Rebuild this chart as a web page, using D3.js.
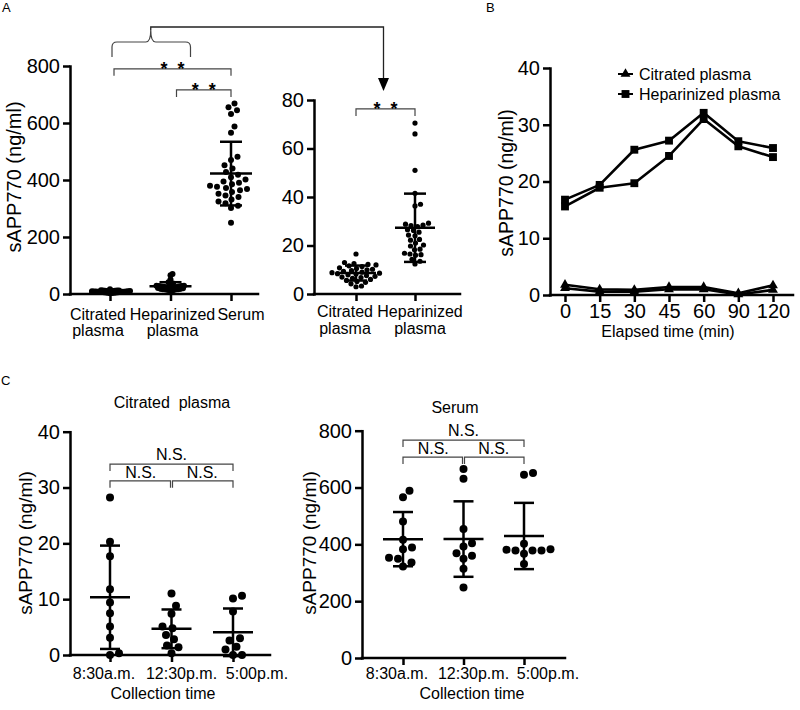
<!DOCTYPE html>
<html>
<head>
<meta charset="utf-8">
<script src="https://cdn.jsdelivr.net/npm/d3@7"></script>
<style>
body{margin:0;background:#fff}
svg text{font-family:"Liberation Sans",Arial,sans-serif;fill:#000}
</style>
</head>
<body>
<svg id="fig" width="800" height="710"></svg>
<script>
// ---- data ----
// panel A
var groupsA = ["Citrated plasma", "Heparinized plasma", "Serum"];
var labelsA = [["Citrated", "plasma"], ["Heparinized", "plasma"], ["Serum"]];
var citrated = [16.5, 13.0, 12.5, 12.2, 12.0, 11.6, 11.3, 10.8, 10.5, 10.2, 10.0, 9.6, 9.3, 9.0, 8.8, 8.6,
  8.4, 8.2, 7.9, 7.6, 7.3, 7.0, 6.8, 6.5, 6.0, 5.6, 5.2, 4.8, 4.2, 3.3, 3.0];
var heparinized = [70.5, 66, 51, 41.5, 37, 36.3, 29.2, 28.8, 28.4, 28.2, 27.8, 26.5, 26.2, 25.5, 24.3, 24,
  22.5, 22.2, 21, 20.2, 19.8, 18.5, 18.2, 16.8, 16.5, 16.2, 16, 14.3, 13.5, 12.4];
var serum = [668, 655, 645, 632, 588, 566, 482, 470, 452, 440, 428, 418, 410, 402, 395, 390, 385, 380,
  376, 372, 368, 364, 358, 352, 346, 340, 332, 325, 318, 310, 302, 250];
var ticksA = [0, 200, 400, 600, 800];
var ticksInset = [0, 20, 40, 60, 80];

// panel B
var timesB = ["0", "15", "30", "45", "60", "90", "120"];
var citB1 = [1.8, 1.0, 0.9, 1.4, 1.4, 0.3, 1.7];
var citB2 = [1.2, 0.6, 0.6, 1.0, 1.0, 0.1, 0.9];
var hepB1 = [16.8, 19.4, 25.6, 27.2, 32.1, 27.1, 25.9];
var hepB2 = [15.6, 18.9, 19.7, 24.5, 31.0, 26.2, 24.3];
var ticksB = [0, 10, 20, 30, 40];

// panel C
var timesC = ["8:30a.m.", "12:30p.m.", "5:00p.m."];
var citC = [
  [28.2, 20.3, 17.7, 11.8, 9.4, 7.5, 5.1, 3.1, 0, 0.3],
  [11.0, 8.8, 7.4, 5.1, 4.8, 3.6, 2.8, 1.7, 1.4, 0.3],
  [10.6, 10.1, 7.8, 3.0, 2.6, 1.5, 1.0, 0, 0]
];
var serC = [
  [589, 566, 480, 416, 389, 383, 353, 349, 336, 322],
  [665, 631, 454, 404, 392, 369, 360, 349, 314, 248],
  [651, 645, 402, 383, 381, 378, 378, 378, 367, 331]
];
var ticksCcit = [0, 10, 20, 30, 40];
var ticksCser = [0, 200, 400, 600, 800];

// ---- helpers ----
var svg = d3.select("#fig");

function leftAxis(x0, y, ticks, fs) {
  var g = svg.append("g").attr("transform", "translate(" + x0 + ",0)")
    .call(d3.axisLeft(y).tickValues(ticks).tickSize(7).tickSizeOuter(0).tickPadding(3));
  g.select(".domain").attr("stroke", "#000").attr("stroke-width", 2.5).attr("stroke-linecap", "square");
  g.selectAll(".tick line").attr("stroke", "#000").attr("stroke-width", 2.5);
  g.selectAll(".tick text").attr("font-size", fs);
  return g;
}

function bottomAxis(x, x0, x1, y0) {
  var g = svg.append("g").attr("transform", "translate(0," + y0 + ")")
    .call(d3.axisBottom(x).tickSize(7).tickSizeOuter(0).tickFormat(""));
  g.select(".domain").remove();
  g.selectAll(".tick line").attr("stroke", "#000").attr("stroke-width", 2.5);
  svg.append("line").attr("x1", x0).attr("x2", x1).attr("y1", y0).attr("y2", y0)
    .attr("stroke", "#000").attr("stroke-width", 2.5).attr("stroke-linecap", "square");
  return g;
}

function yTitle(x, y, fs, txt) {
  svg.append("text").attr("transform", "translate(" + x + "," + y + ") rotate(-90)")
    .attr("text-anchor", "middle").attr("font-size", fs).text(txt);
}

// simple beeswarm: push each dot sideways until it clears the ones already placed
function swarm(vals, y, cx, d) {
  var pts = vals.map(function(v) { return {v: v, y: y(v)}; })
    .sort(function(a, b) { return a.v - b.v; });
  var placed = [];
  pts.forEach(function(p) {
    for (var k = 0; k < 600; k++) {
      var xx = cx + (k % 2 ? 1 : -1) * Math.ceil(k / 2) * 0.5;
      var ok = placed.every(function(q) { return (q.x - xx) * (q.x - xx) + (q.y - p.y) * (q.y - p.y) >= d * d; });
      if (ok) { p.x = xx; break; }
    }
    placed.push(p);
  });
  return placed;
}

function dotGroup(vals, cx, y, r, d, halfMean, halfCap) {
  var pts = swarm(vals, y, cx, d);
  svg.append("g").selectAll("circle").data(pts).join("circle")
    .attr("cx", function(p) { return p.x; })
    .attr("cy", function(p) { return p.y; })
    .attr("r", r).attr("fill", "#000");
  var m = d3.mean(vals), s = d3.deviation(vals);
  var g = svg.append("g").attr("stroke", "#000").attr("stroke-width", 2.5);
  g.append("line").attr("x1", cx).attr("x2", cx).attr("y1", y(m - s)).attr("y2", y(m + s));
  g.append("line").attr("x1", cx - halfMean).attr("x2", cx + halfMean).attr("y1", y(m)).attr("y2", y(m));
  [m + s, m - s].forEach(function(v) {
    g.append("line").attr("x1", cx - halfCap).attr("x2", cx + halfCap).attr("y1", y(v)).attr("y2", y(v));
  });
}

function bracket(xa, xb, yl, drop) {
  svg.append("path")
    .attr("d", "M" + xa + "," + (yl + drop) + "V" + yl + "H" + xb + "V" + (yl + drop))
    .attr("fill", "none").attr("stroke", "#444").attr("stroke-width", 1.2);
}

function note(x, y, txt, fs, bold) {
  svg.append("text").attr("x", x).attr("y", y).attr("text-anchor", "middle")
    .attr("font-size", fs).attr("font-weight", bold ? "bold" : null)
    .style("white-space", "pre").text(txt);
}

// panel letters
[["A", 2, 12], ["B", 486, 12], ["C", 1, 385]].forEach(function(l) {
  svg.append("text").attr("x", l[1]).attr("y", l[2]).attr("font-size", 13).text(l[0]);
});

// ---- panel A, left ----
var yA = d3.scaleLinear().domain([0, 800]).range([294, 66]);
var xA = d3.scalePoint().domain(groupsA).range([110, 231]);
leftAxis(70, yA, ticksA, 20);
bottomAxis(xA, 70, 258, 294);
var shiftA = [-12, 2, 10];
groupsA.forEach(function(gname, i) {
  labelsA[i].forEach(function(t, j) {
    svg.append("text").attr("x", xA(gname) + shiftA[i]).attr("y", 320 + j * 16)
      .attr("text-anchor", "middle").attr("font-size", 16).text(t);
  });
});
yTitle(21, 177, 20, "sAPP770 (ng/ml)");
dotGroup(citrated, xA(groupsA[0]), yA, 3, 1.8, 21, 11);
dotGroup(heparinized, xA(groupsA[1]), yA, 3, 2.3, 21, 11);
dotGroup(serum, xA(groupsA[2]), yA, 3, 7, 21, 11);
bracket(xA(groupsA[0]) + 4, xA(groupsA[2]), yA(790), 7);
note((xA(groupsA[0]) + 4 + xA(groupsA[2])) / 2, yA(790) + 6, "*  *", 18, true);
bracket(xA(groupsA[1]) + 6, xA(groupsA[2]), yA(716), 7);
note((xA(groupsA[1]) + 6 + xA(groupsA[2])) / 2, yA(716) + 6, "*  *", 18, true);

// ---- panel A, inset ----
var yI = d3.scaleLinear().domain([0, 80]).range([294, 100]);
var xI = d3.scalePoint().domain(groupsA.slice(0, 2)).range([356, 415]);
leftAxis(314, yI, ticksInset, 20);
bottomAxis(xI, 314, 460, 294);
var shiftI = [-11, 5];
groupsA.slice(0, 2).forEach(function(gname, i) {
  labelsA[i].forEach(function(t, j) {
    svg.append("text").attr("x", xI(gname) + shiftI[i]).attr("y", 317 + j * 17)
      .attr("text-anchor", "middle").attr("font-size", 16).text(t);
  });
});
dotGroup(citrated, xI(groupsA[0]), yI, 2.6, 5.4, 20, 11);
dotGroup(heparinized, xI(groupsA[1]), yI, 2.6, 5.4, 20, 11);
bracket(xI(groupsA[0]), xI(groupsA[1]), yI(76.3), 7);
note((xI(groupsA[0]) + xI(groupsA[1])) / 2, yI(76.3) + 6, "*  *", 18, true);

// brace + arrow linking left panel to inset
var bx1 = xA(groupsA[0]) + 2, bx2 = xA(groupsA[1]) + 20, bc = (bx1 + bx2) / 2 - 0.5;
var arrowX = (xI(groupsA[0]) + xI(groupsA[1])) / 2 - 2;
svg.append("path")
  .attr("d", "M" + bx1 + ",57V47Q" + bx1 + ",42 " + (bx1 + 5) + ",42H" + (bc - 5) +
    "Q" + bc + ",42 " + bc + ",30Q" + bc + ",42 " + (bc + 5) + ",42H" + (bx2 - 5) +
    "Q" + bx2 + ",42 " + bx2 + ",47V57")
  .attr("fill", "none").attr("stroke", "#444").attr("stroke-width", 1.2);
svg.append("path")
  .attr("d", "M" + bc + ",30V27H" + arrowX + "V79")
  .attr("fill", "none").attr("stroke", "#222").attr("stroke-width", 1.3);
svg.append("path")
  .attr("d", "M" + (arrowX - 5.5) + ",78L" + (arrowX + 5.5) + ",78L" + arrowX + ",91Z")
  .attr("fill", "#000");

// ---- panel B ----
var yB = d3.scaleLinear().domain([0, 40]).range([295, 68]);
var xB = d3.scalePoint().domain(timesB).range([565, 773]);
leftAxis(550, yB, ticksB, 20);
var gxB = bottomAxis(xB, 550, 793, 295);
gxB.selectAll(".tick").append("text").attr("y", 23).attr("text-anchor", "middle")
  .attr("font-size", 20).text(function(d) { return d; });
yTitle(513, 183, 19.5, "sAPP770 (ng/ml)");
svg.append("text").attr("x", 668).attr("y", 337).attr("text-anchor", "middle")
  .attr("font-size", 16).text("Elapsed time (min)");

var lineB = d3.line().x(function(d, i) { return xB(timesB[i]); }).y(function(d) { return yB(d); });
var tri = d3.symbol().type(d3.symbolTriangle).size(42);
var sq = d3.symbol().type(d3.symbolSquare).size(62);
[[citB1, tri], [citB2, tri], [hepB1, sq], [hepB2, sq]].forEach(function(s) {
  svg.append("path").datum(s[0]).attr("d", lineB)
    .attr("fill", "none").attr("stroke", "#000").attr("stroke-width", 2.6).attr("stroke-linejoin", "round");
  svg.append("g").selectAll("path").data(s[0]).join("path")
    .attr("transform", function(d, i) { return "translate(" + xB(timesB[i]) + "," + yB(d) + ")"; })
    .attr("d", s[1]).attr("fill", "#000");
});
// legend
[["Citrated plasma", tri, 74], ["Heparinized plasma", sq, 94]].forEach(function(l) {
  svg.append("line").attr("x1", 618).attr("x2", 633).attr("y1", l[2]).attr("y2", l[2])
    .attr("stroke", "#000").attr("stroke-width", 2);
  svg.append("path").attr("transform", "translate(625.5," + l[2] + ")").attr("d", l[1]).attr("fill", "#000");
  svg.append("text").attr("x", 639).attr("y", l[2] + 6).attr("font-size", 16).text(l[0]);
});

// ---- panel C ----
function panelC(opt) {
  var y = d3.scaleLinear().domain(opt.domain).range([opt.y0, opt.y1]);
  var x = d3.scalePoint().domain(timesC).range(opt.xr);
  leftAxis(opt.ax, y, opt.ticks, 20);
  bottomAxis(x, opt.ax, opt.axEnd, opt.y0);
  var shift = [-6, 10, 24];
  timesC.forEach(function(t, i) {
    svg.append("text").attr("x", x(t) + shift[i]).attr("y", 679).attr("text-anchor", "middle")
      .attr("font-size", 16).text(t);
    dotGroup(opt.data[i], x(t), y, 4, 9, 20, 10);
  });
  yTitle(opt.titleYX, 543, 19, "sAPP770 (ng/ml)");
  note(opt.titleX, opt.titleY, opt.title, 16);
  note(opt.xtX, 699, "Collection time", 16);
  var a = x(timesC[0]), b = x(timesC[1]), c = x(timesC[2]);
  bracket(a, c, y(opt.top), 7);
  note((a + c) / 2, y(opt.top) - 4, "N.S.", 16);
  bracket(a, b - 1, y(opt.low), 7);
  bracket(b + 1, c, y(opt.low), 7);
  note((a + b) / 2, y(opt.low) - 3, "N.S.", 16);
  note((b + c) / 2, y(opt.low) - 3, "N.S.", 16);
}
panelC({domain: [0, 40], y0: 655, y1: 431.7, xr: [110, 233], ax: 70, axEnd: 270, ticks: ticksCcit,
  data: citC, title: "Citrated  plasma", titleX: 172, titleY: 408, xtX: 163, titleYX: 32, top: 34.2, low: 31.2});
panelC({domain: [0, 800], y0: 658, y1: 430.7, xr: [403, 524], ax: 362, axEnd: 565, ticks: ticksCser,
  data: serC, title: "Serum", titleX: 455, titleY: 413, xtX: 472, titleYX: 316, top: 767, low: 707});
</script>
</body>
</html>
